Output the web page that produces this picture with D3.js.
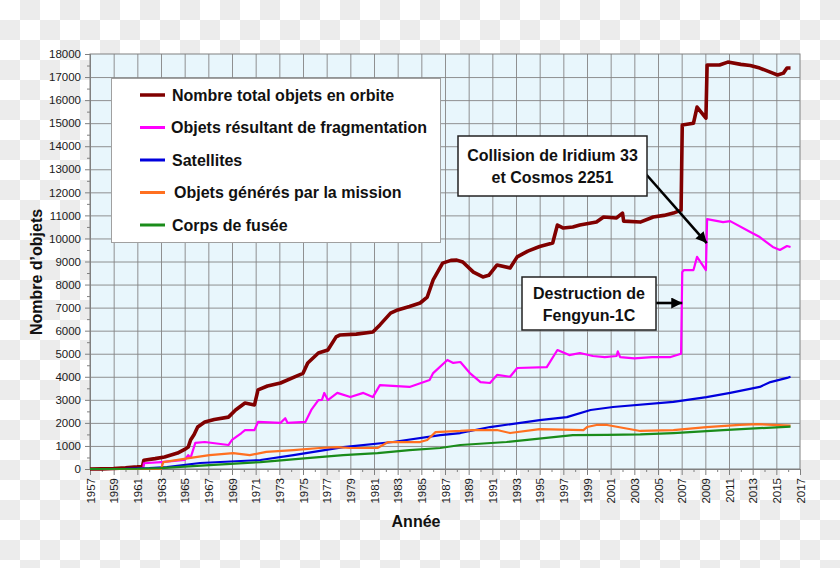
<!DOCTYPE html>
<html>
<head>
<meta charset="utf-8">
<script src="https://cdn.jsdelivr.net/npm/d3@7"></script>
<style>
  body { margin: 0; padding: 0; }
  svg { display: block; font-family: "Liberation Sans", Arial, sans-serif; }
  .axis text { font-size: 11.5px; fill: #1a1a1a; }
  .axis path { stroke: #808080; }
  .axis line { stroke: #808080; }
</style>
</head>
<body>
<div id="chart"></div>
<script>

// values: [year, number of objects]
var total = [
    [1957, 0], [1958, 5], [1959, 20], [1960, 50], [1961, 100], [1961.45, 150], [1961.55, 380],
    [1962.5, 450], [1963.3, 520], [1964.4, 690], [1965.0, 850], [1965.3, 950], [1965.5, 1260],
    [1965.8, 1500], [1966.1, 1820], [1966.7, 2040], [1967.5, 2150], [1968.7, 2250], [1969.3, 2560],
    [1970.1, 2860], [1970.9, 2780], [1971.2, 3430], [1972.0, 3600], [1973.1, 3730], [1974.3, 4000],
    [1975.0, 4150], [1975.4, 4600], [1976.3, 5030], [1977.1, 5160], [1977.8, 5730], [1978.1, 5810],
    [1979.5, 5850], [1980.9, 5940], [1981.5, 6250], [1982.4, 6760], [1983.0, 6900], [1984.0, 7050],
    [1984.9, 7200], [1985.5, 7460], [1986.0, 8200], [1986.8, 8930], [1987.5, 9050], [1988.0, 9060],
    [1988.5, 8980], [1989.4, 8540], [1990.2, 8330], [1990.7, 8400], [1991.4, 8850], [1992.5, 8720],
    [1993.1, 9200], [1994.0, 9450], [1995.0, 9650], [1996.1, 9800], [1996.5, 10580], [1997.0, 10450],
    [1997.8, 10500], [1998.4, 10580], [1999.8, 10710], [2000.4, 10930], [2001.5, 10890], [2002.0, 11100],
    [2002.1, 10750], [2003.5, 10710], [2004.6, 10930], [2005.5, 11000], [2006.3, 11100], [2006.95, 11230],
    [2007.05, 14920], [2008.0, 15000], [2008.3, 15700], [2009.05, 15220], [2009.15, 17520], [2010.2, 17520],
    [2010.9, 17650], [2012.0, 17550], [2012.8, 17500], [2013.6, 17390], [2014.7, 17170], [2015.1, 17090],
    [2015.6, 17170], [2015.9, 17390], [2016.2, 17390]
];

var fragmentation = [
    [1957, 0], [1961.5, 0], [1961.55, 250], [1963, 300], [1965, 390], [1965.3, 600], [1965.5, 480],
    [1965.9, 1130], [1966.7, 1170], [1968.7, 1040], [1969, 1260], [1969.8, 1560], [1970.1, 1690],
    [1970.9, 1690], [1971.2, 2040], [1973.1, 2000], [1973.5, 2200], [1973.7, 2000], [1975.2, 2040],
    [1975.7, 2560], [1976.3, 2990], [1976.6, 3000], [1976.8, 3300], [1977.1, 2990], [1977.9, 3300],
    [1979, 3120], [1980.1, 3300], [1980.9, 3120], [1981.5, 3640], [1984, 3560], [1985.7, 3860],
    [1986, 4160], [1987.2, 4730], [1987.7, 4600], [1988.3, 4640], [1989.1, 4160], [1990, 3770],
    [1990.8, 3730], [1991.4, 4080], [1992.5, 4000], [1993.1, 4380], [1995.6, 4420], [1996.5, 5160],
    [1997.5, 4940], [1998.4, 5030], [1999.5, 4900], [2000.5, 4850], [2001.5, 4900], [2001.6, 5100],
    [2001.8, 4850], [2003, 4800], [2004.5, 4850], [2006, 4850], [2006.95, 5000], [2007.05, 8540],
    [2007.2, 8630], [2008, 8630], [2008.3, 9200], [2009.05, 8630], [2009.15, 10840], [2010.5, 10710],
    [2011.1, 10750], [2012.8, 10280], [2013.6, 10060], [2014.7, 9630], [2015.3, 9500], [2015.9, 9670],
    [2016.2, 9630]
];

var satellites = [
    [1957, 0], [1960, 10], [1962, 40], [1963.5, 80], [1966.3, 260], [1971.4, 390], [1974.2, 600],
    [1978.4, 950], [1982.6, 1170], [1986.6, 1470], [1988.3, 1560], [1990.8, 1820], [1995, 2120],
    [1997.3, 2250], [1999.3, 2560], [2001.2, 2690], [2006.3, 2910], [2009.1, 3120], [2011.1, 3300],
    [2013.6, 3560], [2014.5, 3770], [2015.9, 3950], [2016.2, 4000]
];

var mission = [
    [1957, 0], [1963.0, 0], [1963.2, 300], [1965.5, 480], [1967.1, 600], [1969.1, 690], [1970.5, 600],
    [1971.9, 740], [1974.2, 820], [1976.4, 910], [1977.9, 950], [1979, 910], [1981.3, 910],
    [1982.2, 1170], [1984.9, 1170], [1985.5, 1260], [1986.2, 1600], [1988.3, 1650], [1989.4, 1690],
    [1991.4, 1690], [1992.5, 1560], [1995, 1730], [1998.7, 1690], [1999, 1820], [1999.8, 1910],
    [2000.7, 1910], [2002.1, 1780], [2003.5, 1650], [2006.3, 1690], [2009.1, 1820], [2011.9, 1910],
    [2013.4, 1950], [2014.7, 1910], [2016.2, 1880]
];

var rocket = [
    [1957, 0], [1961, 10], [1962.9, 40], [1967.1, 170], [1971.4, 300], [1975.6, 480], [1978.4, 600],
    [1981.3, 690], [1984, 820], [1986.6, 910], [1988.3, 1040], [1992.2, 1170], [1997.8, 1470],
    [2000.7, 1480], [2003.5, 1500], [2006.3, 1560], [2010.5, 1690], [2016.2, 1840]
];

var legend_labels = [
    'Nombre total objets en orbite',
    'Objets résultant de fragmentation',
    'Satellites',
    'Objets générés par la mission',
    'Corps de fusée'
];

var year_ticks = d3.range(1957, 2018, 2);

var margin = { top: 54, left: 90, bottom: 99, right: 40 };
var outer_width = 840, outer_height = 568;
var width = outer_width - margin.left - margin.right;
var height = outer_height - margin.top - margin.bottom;

var COLORS = ['#800000', '#ff00ff', '#0000dd', '#ff7020', '#1a8c1a'];
var WIDTHS = [3.6, 2.2, 2.2, 2.2, 2.2];
var series = [total, fragmentation, satellites, mission, rocket];

var sx = d3.scaleLinear().domain([1957, 2017]).range([0, width]);
var sy = d3.scaleLinear().domain([0, 18000]).range([height, 0]);

var svg = d3.select('#chart').append('svg')
    .attr('width', outer_width)
    .attr('height', outer_height);

// transparent-background checkerboard
var defs = svg.append('defs');
var pat = defs.append('pattern')
    .attr('id', 'checker')
    .attr('width', 40).attr('height', 40)
    .attr('patternUnits', 'userSpaceOnUse');
pat.append('rect').attr('width', 40).attr('height', 40).attr('fill', '#ffffff');
pat.append('rect').attr('x', 20).attr('y', 0).attr('width', 20).attr('height', 20).attr('fill', '#ececec');
pat.append('rect').attr('x', 0).attr('y', 20).attr('width', 20).attr('height', 20).attr('fill', '#ececec');

defs.append('marker')
    .attr('id', 'arrow')
    .attr('viewBox', '0 0 10 10')
    .attr('refX', 10).attr('refY', 5)
    .attr('markerWidth', 13).attr('markerHeight', 11)
    .attr('markerUnits', 'userSpaceOnUse')
    .attr('orient', 'auto')
    .append('path')
    .attr('d', 'M0,0 L10,5 L0,10 Z')
    .attr('fill', '#000');

svg.append('rect')
    .attr('width', outer_width).attr('height', outer_height)
    .attr('fill', 'url(#checker)');

var g = svg.append('g')
    .attr('transform', 'translate(' + margin.left + ', ' + margin.top + ')');

g.append('rect')
    .attr('width', width).attr('height', height)
    .attr('fill', '#e8f6fc');

// grid
g.append('g')
    .call(d3.axisLeft(sy).tickValues(d3.range(1000, 18000, 1000)).tickSize(-width).tickFormat(''))
    .call(function(s) { s.select('.domain').remove(); })
    .selectAll('line').attr('stroke', '#858585').attr('stroke-width', 0.9);
g.append('g')
    .attr('transform', 'translate(0, ' + height + ')')
    .call(d3.axisBottom(sx).tickValues(year_ticks.slice(1, -1)).tickSize(-height).tickFormat(''))
    .call(function(s) { s.select('.domain').remove(); })
    .selectAll('line').attr('stroke', '#858585').attr('stroke-width', 0.9);

// minor ticks
g.append('g').attr('class', 'axis')
    .call(d3.axisLeft(sy).tickValues(d3.range(500, 18000, 1000)).tickSize(3).tickFormat(''));
g.append('g').attr('class', 'axis')
    .attr('transform', 'translate(0, ' + height + ')')
    .call(d3.axisBottom(sx).tickValues(d3.range(1958, 2017, 2)).tickSize(3).tickFormat(''));

// major axes
var ay = g.append('g').attr('class', 'axis')
    .call(d3.axisLeft(sy).tickValues(d3.range(0, 18001, 1000)).tickSize(5).tickPadding(4).tickFormat(d3.format('d')));
var ax = g.append('g').attr('class', 'axis')
    .attr('transform', 'translate(0, ' + height + ')')
    .call(d3.axisBottom(sx).tickValues(year_ticks).tickSize(6).tickFormat(d3.format('d')));
ax.selectAll('text')
    .attr('transform', 'rotate(-90)')
    .attr('text-anchor', 'end')
    .attr('x', -9)
    .attr('y', 0)
    .attr('dy', '0.36em');

// frame
g.append('rect')
    .attr('width', width).attr('height', height)
    .attr('fill', 'none')
    .attr('stroke', '#808080');

// lines, drawn back to front
var line = d3.line()
    .x(function(d) { return sx(d[0]); })
    .y(function(d) { return sy(d[1]); });

for (var i = 0; i < series.length; i++) {
    g.append('path')
        .datum(series[i])
        .attr('fill', 'none')
        .attr('stroke', COLORS[i])
        .attr('stroke-width', WIDTHS[i])
        .attr('stroke-linejoin', 'round')
        .attr('d', line);
}

// legend
var legend = svg.append('g').attr('class', 'legend');
legend.append('rect')
    .attr('x', 111.5).attr('y', 78.5)
    .attr('width', 329).attr('height', 164)
    .attr('fill', '#fff')
    .attr('stroke', '#a0a0a0');
legend_labels.forEach(function(k, i) {
    var cy = 95 + 32.5 * i;
    legend.append('line')
        .attr('x1', 140).attr('x2', 165)
        .attr('y1', cy).attr('y2', cy)
        .attr('stroke', COLORS[i])
        .attr('stroke-width', i == 0 ? 3.5 : 3);
    legend.append('text')
        .attr('x', i == 1 ? 171 : (i == 3 ? 174 : 172))
        .attr('y', cy + 5.5)
        .attr('font-size', '16px')
        .attr('font-weight', 'bold')
        .attr('fill', '#111')
        .text(k);
});

// annotations
function note(x, y, w, h, lines, tip, from) {
    var a = svg.append('g');
    a.append('line')
        .attr('x1', from[0]).attr('y1', from[1])
        .attr('x2', tip[0]).attr('y2', tip[1])
        .attr('stroke', '#000')
        .attr('stroke-width', 2.6)
        .attr('marker-end', 'url(#arrow)');
    a.append('rect')
        .attr('x', x).attr('y', y)
        .attr('width', w).attr('height', h)
        .attr('fill', '#fff')
        .attr('stroke', '#222')
        .attr('stroke-width', 1.5);
    lines.forEach(function(t, i) {
        a.append('text')
            .attr('x', x + w / 2)
            .attr('y', y + h / 2 + (i - (lines.length - 1) / 2) * 22 + 6)
            .attr('text-anchor', 'middle')
            .attr('font-size', '16px')
            .attr('font-weight', 'bold')
            .attr('fill', '#111')
            .text(t);
    });
}

note(458, 136, 189, 60, ['Collision de Iridium 33', 'et Cosmos 2251'],
    [margin.left + sx(2009.12), margin.top + sy(9800)], [645, 173]);
note(522, 277, 134, 53, ['Destruction de', 'Fengyun-1C'],
    [margin.left + sx(2007.05), margin.top + sy(7200)], [656, 303]);

// axis titles
svg.append('text')
    .attr('transform', 'translate(42, 272) rotate(-90)')
    .attr('text-anchor', 'middle')
    .attr('font-size', '16px')
    .attr('font-weight', 'bold')
    .attr('fill', '#111')
    .text('Nombre d\u2019objets');
svg.append('text')
    .attr('x', 416).attr('y', 527)
    .attr('text-anchor', 'middle')
    .attr('font-size', '16px')
    .attr('font-weight', 'bold')
    .attr('fill', '#111')
    .text('Année');

</script>
</body>
</html>
